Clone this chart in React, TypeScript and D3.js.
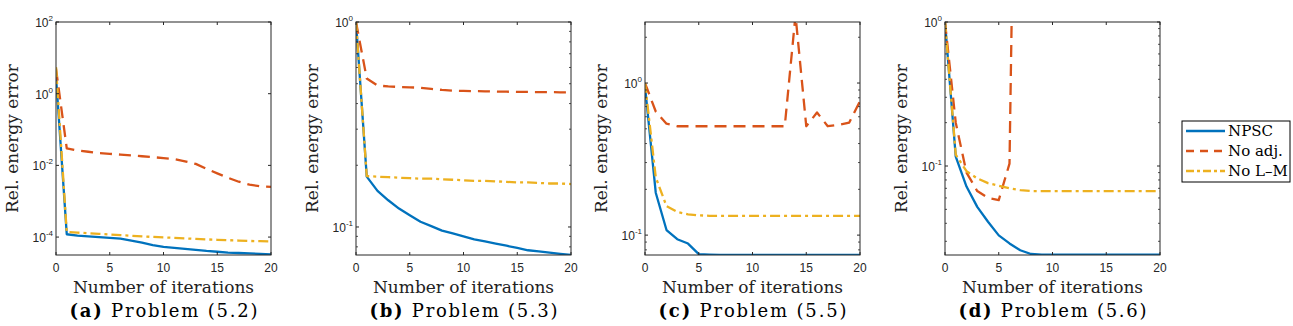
import React from 'react';
import * as d3 from 'd3';

const W = 1293;
const H = 326;
const top = 22;
const bottom = 255;
const plotW = 215;
const lefts = [56, 356, 645, 945];

const colors = ['#0072BD', '#D95319', '#EDB120'];
const names = ['NPSC', 'No adj.', 'No L\u2013M'];
const dashes = ['none', '12,7', '10,4,3,4'];

const iters = [0, 1, 2, 3, 4, 5, 6, 7, 8, 9, 10, 11, 12, 13, 14, 15, 16, 17, 18, 19, 20];
const xTicks = [0, 5, 10, 15, 20];

// (a) Problem (5.2)
const npscA = [3, 1.2e-4, 1.1e-4, 1.05e-4, 1e-4, 9.5e-5, 9e-5, 8e-5, 7e-5, 6e-5, 5.3e-5, 5e-5, 4.7e-5, 4.4e-5, 4.1e-5, 3.9e-5, 3.7e-5, 3.6e-5, 3.5e-5, 3.4e-5, 3.3e-5];
const noAdjA = [5, 0.03, 0.026, 0.024, 0.022, 0.021, 0.02, 0.019, 0.018, 0.017, 0.016, 0.015, 0.013, 0.011, 0.008, 0.006, 0.0045, 0.0035, 0.0029, 0.0026, 0.0025];
const noLMA = [5.5, 1.38e-4, 1.33e-4, 1.28e-4, 1.23e-4, 1.18e-4, 1.13e-4, 1.09e-4, 1.05e-4, 1.01e-4, 9.8e-5, 9.5e-5, 9.2e-5, 8.9e-5, 8.6e-5, 8.4e-5, 8.2e-5, 8e-5, 7.8e-5, 7.7e-5, 7.6e-5];

// (b) Problem (5.3)
const npscB = [1, 0.176, 0.15, 0.135, 0.123, 0.114, 0.106, 0.101, 0.096, 0.093, 0.09, 0.087, 0.085, 0.083, 0.081, 0.079, 0.077, 0.076, 0.075, 0.074, 0.073];
const noAdjB = [1, 0.53, 0.49, 0.485, 0.482, 0.48, 0.478, 0.472, 0.466, 0.462, 0.461, 0.46, 0.459, 0.458, 0.457, 0.456, 0.456, 0.455, 0.455, 0.454, 0.454];
const noLMB = [1, 0.177, 0.176, 0.175, 0.174, 0.173, 0.172, 0.172, 0.171, 0.17, 0.169, 0.168, 0.168, 0.167, 0.166, 0.165, 0.165, 0.164, 0.163, 0.163, 0.162];

// (c) Problem (5.5)
const npscC = [0.95, 0.19, 0.108, 0.094, 0.088, 0.075, 0.0745, 0.074, 0.074, 0.074, 0.074, 0.074, 0.074, 0.074, 0.074, 0.074, 0.074, 0.074, 0.074, 0.074, 0.074];
const noAdjC = [1, 0.65, 0.54, 0.52, 0.52, 0.52, 0.52, 0.52, 0.52, 0.52, 0.52, 0.52, 0.52, 0.52, 2.8, 0.52, 0.64, 0.52, 0.53, 0.55, 0.76];
const noLMC = [1, 0.24, 0.155, 0.142, 0.137, 0.135, 0.134, 0.134, 0.134, 0.134, 0.134, 0.134, 0.134, 0.134, 0.134, 0.134, 0.134, 0.134, 0.134, 0.134, 0.134];

// (d) Problem (5.6)
const npscD = [1, 0.116, 0.072, 0.052, 0.041, 0.033, 0.029, 0.026, 0.0245, 0.0242, 0.0242, 0.0242, 0.0242, 0.0242, 0.0242, 0.0242, 0.0242, 0.0242, 0.0242, 0.0242, 0.0242];
const noAdjD = [1, 0.2, 0.09, 0.067, 0.06, 0.058, 0.104, 1e4];
const noLMD = [1, 0.12, 0.092, 0.082, 0.076, 0.073, 0.07, 0.068, 0.067, 0.067, 0.067, 0.067, 0.067, 0.067, 0.067, 0.067, 0.067, 0.067, 0.067, 0.067, 0.067];

const yDomains = [
  [Math.pow(10, -4.5), 100],
  [0.073, 1],
  [0.074, 2.52],
  [0.0241, 1],
];
const yMajor = [[2, 0, -2, -4], [0, -1], [0, -1], [0, -1]];
const useMinor = [false, true, true, true];
const captions = [['(a)', 'Problem (5.2)'], ['(b)', 'Problem (5.3)'], ['(c)', 'Problem (5.5)'], ['(d)', 'Problem (5.6)']];
const series = [
  [npscA, noAdjA, noLMA],
  [npscB, noAdjB, noLMB],
  [npscC, noAdjC, noLMC],
  [npscD, noAdjD, noLMD],
];

const serif = "'DejaVu Serif', 'Liberation Serif', serif";
const sans = "'Liberation Sans', Arial, sans-serif";
const axisColor = '#262626';

function Panel({ i }: { i: number }) {
  const left = lefts[i];
  const x = d3.scaleLinear().domain([0, 20]).range([left, left + plotW]);
  const y = d3.scaleLog().domain(yDomains[i]).range([bottom, top]);
  const [lo, hi] = yDomains[i];
  const minor: number[] = [];
  if (useMinor[i]) {
    for (let e = -3; e <= 1; e++) {
      for (let m = 2; m <= 9; m++) {
        const v = m * Math.pow(10, e);
        if (v > lo && v < hi) minor.push(v);
      }
    }
  }
  const line = d3.line<number>()
    .x((_, k) => x(iters[k]))
    .y(d => y(d));
  const cx = left + plotW / 2;
  const cy = (top + bottom) / 2;
  return (
    <g>
      <defs>
        <clipPath id={`clip${i}`}>
          <rect x={left} y={top} width={plotW} height={bottom - top} />
        </clipPath>
      </defs>
      <rect x={left} y={top} width={plotW} height={bottom - top} fill="#fff" />
      <g clipPath={`url(#clip${i})`}>
        {series[i].map((s, k) => (
          <path key={k} d={line(s) || ''} fill="none" stroke={colors[k]} strokeWidth={2.3}
            strokeDasharray={dashes[k]} strokeLinejoin="round" />
        ))}
      </g>
      {/* ticks */}
      {xTicks.map(t => (
        <g key={t}>
          <line x1={x(t)} x2={x(t)} y1={bottom} y2={bottom - 3} stroke={axisColor} />
          <line x1={x(t)} x2={x(t)} y1={top} y2={top + 3} stroke={axisColor} />
          <text x={x(t)} y={272} textAnchor="middle" fontFamily={sans} fontSize={12} fill={axisColor}>{t}</text>
        </g>
      ))}
      {yMajor[i].map(e => {
        const yy = y(Math.pow(10, e));
        return (
          <g key={e}>
            <line x1={left} x2={left + 3} y1={yy} y2={yy} stroke={axisColor} />
            <line x1={left + plotW} x2={left + plotW - 3} y1={yy} y2={yy} stroke={axisColor} />
            <text x={left - 3} y={yy + 5} textAnchor="end" fontFamily={sans} fontSize={12} fill={axisColor}>
              10<tspan dy={-6} fontSize={8}>{e}</tspan>
            </text>
          </g>
        );
      })}
      {minor.map(v => (
        <g key={v}>
          <line x1={left} x2={left + 2} y1={y(v)} y2={y(v)} stroke={axisColor} strokeWidth={0.8} />
          <line x1={left + plotW} x2={left + plotW - 2} y1={y(v)} y2={y(v)} stroke={axisColor} strokeWidth={0.8} />
        </g>
      ))}
      <rect x={left} y={top} width={plotW} height={bottom - top} fill="none" stroke={axisColor} strokeWidth={1} />
      <text x={cx} y={293} textAnchor="middle" fontFamily={serif} fontSize={17} fill="#222">Number of iterations</text>
      <text transform={`translate(${left - 38},${cy}) rotate(-90)`} textAnchor="middle" fontFamily={serif} fontSize={17} fill="#222">Rel. energy error</text>
      <text x={cx} y={317} textAnchor="middle" fontFamily={serif} fontSize={18} fill="#000"
        textLength={188} lengthAdjust="spacing">
        <tspan fontWeight="bold">{captions[i][0]}</tspan> {captions[i][1]}
      </text>
    </g>
  );
}

function Legend() {
  const lx = 1182;
  const ly = 121;
  return (
    <g>
      <rect x={lx} y={ly} width={108} height={61} fill="#fff" stroke="#000" strokeWidth={1} />
      {names.map((n, k) => {
        const yy = ly + 10 + k * 20;
        return (
          <g key={n}>
            <line x1={lx + 4} x2={lx + 43} y1={yy} y2={yy} stroke={colors[k]} strokeWidth={2.3}
              strokeDasharray={k === 1 ? '8,6' : k === 2 ? '8,3,3,3' : dashes[k]} />
            <text x={lx + 46} y={yy + 5} fontFamily={serif} fontSize={15} fill="#000">{n}</text>
          </g>
        );
      })}
    </g>
  );
}

export default function App() {
  return (
    <svg width={W} height={H} style={{ position: 'absolute', left: 0, top: 0, background: '#fff' }}>
      <rect x={0} y={0} width={W} height={H} fill="#fff" />
      {[0, 1, 2, 3].map(i => <Panel key={i} i={i} />)}
      <Legend />
    </svg>
  );
}
